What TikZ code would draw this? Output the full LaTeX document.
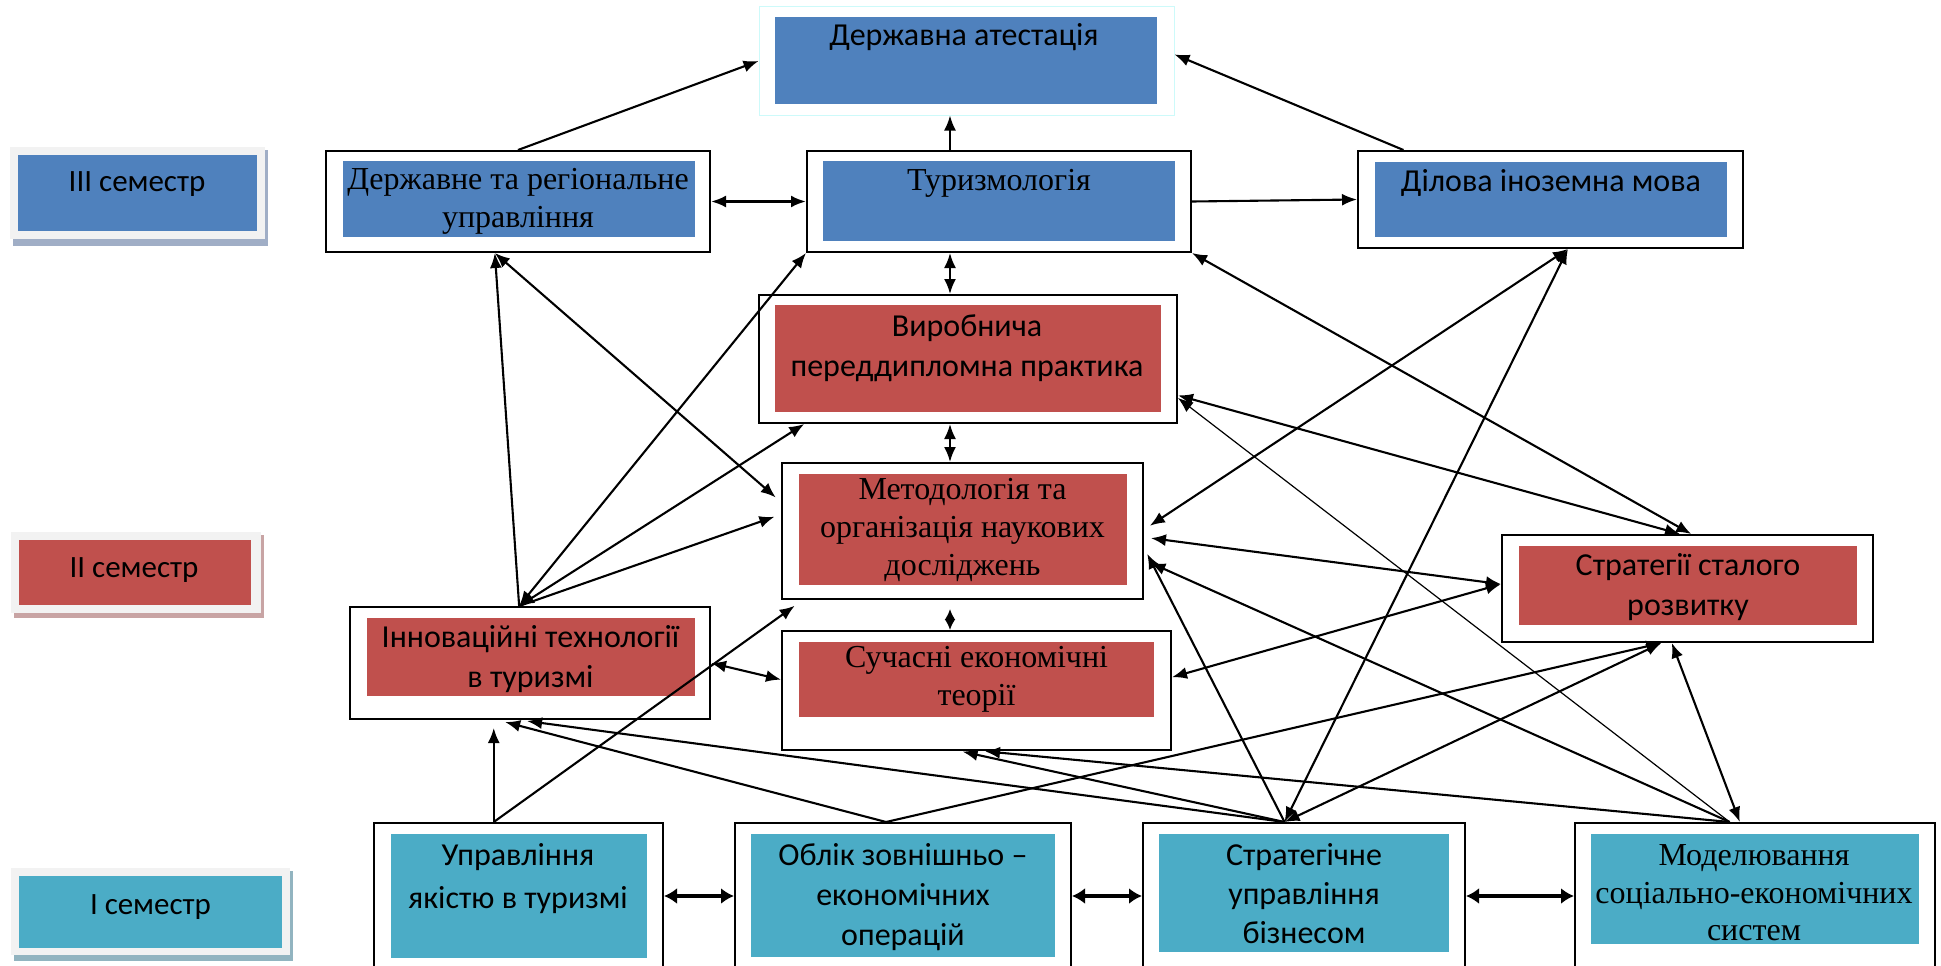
\documentclass[tikz,border=0pt]{standalone}
\usepackage{fontspec}
\setmainfont{Liberation Serif}
\setsansfont{Carlito}
\usetikzlibrary{arrows.meta,calc}

\definecolor{plan3}{RGB}{79,129,189}
\definecolor{plan2}{RGB}{192,80,77}
\definecolor{plan1}{RGB}{75,172,198}
\definecolor{pale}{RGB}{242,242,242}
\definecolor{shade3}{RGB}{160,174,198}
\definecolor{shade2}{RGB}{200,164,164}
\definecolor{shade1}{RGB}{146,180,192}
\definecolor{icy}{RGB}{205,250,250}

\tikzset{
  boxframe/.style={draw, fill=white, line width=2pt, inner sep=0pt},
  sertext/.style={font=\fontsize{32}{38}\selectfont, align=center, inner sep=0pt},
  santext/.style={font=\sffamily\fontsize{32}{40}\selectfont, align=center, inner sep=0pt},
  semtext/.style={font=\sffamily\fontsize{31}{36}\selectfont, inner sep=0pt},
  link/.style={line width=2.1pt, -{Latex[length=15pt,width=12pt]}},
  thinlink/.style={line width=1.2pt, -{Latex[length=15pt,width=12pt]}},
  twoway/.style={line width=2.1pt, {Latex[length=15pt,width=12pt]}-{Latex[length=15pt,width=12pt]}},
  shortway/.style={line width=2pt, {Latex[length=11pt,width=11pt]}-{Latex[length=11pt,width=11pt]}},
  rowlink/.style={line width=3.2pt, {Latex[length=13pt,width=16pt]}-{Latex[length=13pt,width=16pt]}},
}

\begin{document}
\begin{tikzpicture}[x=1pt,y=1pt,yscale=-1]
\useasboundingbox (0,0) rectangle (1941,966);
\clip (0,0) rectangle (1941,966);

% Semester labels
\fill[shade3] (13,150) rectangle (268,246);
\fill[pale] (10,147) rectangle (265,239);
\fill[plan3] (18,155) rectangle (257,231);
\node[semtext] (sem3) at (137,184) {III семестр};
\fill[shade2] (14,535) rectangle (264,618);
\fill[pale] (11,532) rectangle (261,613);
\fill[plan2] (19,540) rectangle (251,605);
\node[semtext] (sem2) at (134,570) {II семестр};
\fill[shade1] (14,871) rectangle (293,961);
\fill[pale] (11,868) rectangle (290,955);
\fill[plan1] (19,876) rectangle (282,948);
\node[semtext] (sem1) at (150.5,907) {I семестр};

% III semester
\node[boxframe, draw=icy, line width=1pt, minimum width=415, minimum height=108] (attest) at (966.5,61) {};
\fill[plan3] (775,17) rectangle (1157,104);
\node[santext] (attest-t) at (964,37) {Державна атестація};
\node[boxframe, minimum width=384, minimum height=101] (derzh) at (518,201.5) {};
\fill[plan3] (343,161) rectangle (695,237);
\node[sertext] (derzh-t) at (518,201) {Державне та регіональне\\управління};
\node[boxframe, minimum width=384, minimum height=101] (turyzm) at (999,201.5) {};
\fill[plan3] (823,161) rectangle (1175,241);
\node[sertext] (turyzm-t) at (999,183) {Туризмологія};
\node[boxframe, minimum width=385, minimum height=97] (dilova) at (1550.5,199.5) {};
\fill[plan3] (1375,162) rectangle (1727,237);
\node[santext] (dilova-t) at (1551,183) {Ділова іноземна мова};

% II semester
\node[boxframe, minimum width=418, minimum height=128] (vyrob) at (968,359) {};
\fill[plan2] (775,305) rectangle (1161,412);
\node[santext] (vyrob-t) at (967,348) {Виробнича\\переддипломна практика};
\node[boxframe, minimum width=361, minimum height=136] (metod) at (962.5,531) {};
\fill[plan2] (799,474) rectangle (1127,585);
\node[sertext] (metod-t) at (962.5,530) {Методологія та\\організація наукових\\досліджень};
\node[boxframe, minimum width=389, minimum height=119] (suchasni) at (976.5,690.5) {};
\fill[plan2] (799,642) rectangle (1154,717);
\node[sertext] (suchasni-t) at (976.5,679) {Сучасні економічні\\теорії};
\node[boxframe, minimum width=360, minimum height=112] (innov) at (530,663) {};
\fill[plan2] (367,618) rectangle (695,696);
\node[santext] (innov-t) at (530.5,659) {Інноваційні технології\\в туризмі};
\node[boxframe, minimum width=371, minimum height=107] (strateg) at (1687.5,588.5) {};
\fill[plan2] (1519,546) rectangle (1857,625);
\node[santext] (strateg-t) at (1688,587.5) {Стратегії сталого\\розвитку};

% I semester
\node[boxframe, minimum width=289, minimum height=167] (upravl) at (518.5,906.5) {};
\fill[plan1] (391,834) rectangle (647,958);
\node[santext, font=\sffamily\fontsize{32}{43}\selectfont] (upravl-t) at (518,878.5) {Управління\\якістю в туризмі};
\node[boxframe, minimum width=336, minimum height=167] (oblik) at (903,906.5) {};
\fill[plan1] (751,834) rectangle (1055,957);
\node[santext] (oblik-t) at (903,897) {Облік зовнішньо –\\економічних\\операцій};
\node[boxframe, minimum width=322, minimum height=167] (stratup) at (1304,906.5) {};
\fill[plan1] (1159,834) rectangle (1449,952);
\node[santext, font=\sffamily\fontsize{32}{39}\selectfont] (stratup-t) at (1304,894) {Стратегічне\\управління\\бізнесом};
\node[boxframe, minimum width=360, minimum height=167] (model) at (1755,906.5) {};
\fill[plan1] (1591,834) rectangle (1919,944);
\node[sertext, font=\fontsize{32}{37.5}\selectfont] (model-t) at (1754,893) {Моделювання\\соціально-економічних\\систем};

% ports on the frames
\coordinate (axis) at (950,0);
\coordinate (row) at (0,896);
\coordinate (derzh-b) at ($(derzh.south west)!.44!(derzh.south east)$);
\coordinate (innov-n) at ($(innov.north west)!.47!(innov.north east)$);
\coordinate (upravl-n) at ($(upravl.north west)!.415!(upravl.north east)$);
\coordinate (oblik-n) at ($(oblik.north west)!.45!(oblik.north east)$);
\coordinate (stratup-n) at ($(stratup.north west)!.44!(stratup.north east)$);
\coordinate (model-n) at ($(model.north west)!.43!(model.north east)$);
\coordinate (dilova-b) at ($(dilova.south west)!.545!(dilova.south east)$);
\coordinate (strateg-b) at ($(strateg.south west)!.43!(strateg.south east)$);
\coordinate (strateg-l) at ($(strateg.north west)!.46!(strateg.south west)$);

% upper links
\draw[link] (derzh.north) -- (attest.west);
\draw[link] (turyzm.north -| axis) -- (attest.south -| axis);
\draw[link] ($(dilova.north west)!.12!(dilova.north east)$) -- ($(attest.north east)!.44!(attest.south east)$);
\draw[twoway, line width=2.6pt] (derzh.east) -- (turyzm.west);
\draw[link] (turyzm.east) -- (dilova.west);
\draw[twoway] (turyzm.south -| axis) -- (vyrob.north -| axis);
\draw[twoway] (vyrob.south -| axis) -- (metod.north -| axis);
\draw[shortway, shorten <=9pt] (metod.south -| axis) -- (suchasni.north -| axis);

% left side
\draw[link] (innov-n) -- (derzh-b);
\draw[twoway, shorten >=7pt] (derzh-b) -- ($(metod.north west)!.29!(metod.south west)$);
\draw[twoway] (turyzm.south west) -- (innov-n);
\draw[twoway] ($(vyrob.south west)!.11!(vyrob.south east)$) -- (innov-n);
\draw[link, shorten >=7pt] (innov-n) -- ($(metod.north west)!.38!(metod.south west)$);
\draw[twoway] (innov.east) -- ($(suchasni.north west)!.41!(suchasni.south west)$);

% from the I semester
\draw[link, shorten >=8pt] (upravl-n) -- (upravl-n |- innov.south);
\draw[link, shorten >=10pt] (upravl-n) -- ($(metod.south west)!.06!(metod.south east)$);
\draw[link, shorten >=8pt] (oblik-n) -- ($(innov.south west)!.41!(innov.south east)$);
\draw[link] (oblik-n) -- (strateg-b);
\draw[link, shorten >=8pt] (stratup-n) -- ($(innov.south west)!.47!(innov.south east)$);
\draw[link, shorten >=3pt] (stratup-n) -- ($(suchasni.south west)!.457!(suchasni.south east)$);
\draw[link, shorten >=7pt] (stratup-n) -- ($(metod.north east)!.62!(metod.south east)$);
\draw[twoway] (stratup-n) -- (dilova-b);
\draw[twoway] (stratup-n) -- (strateg-b);
\draw[link, shorten >=3pt] (model-n) -- ($(suchasni.south west)!.514!(suchasni.south east)$);
\draw[link, shorten >=7pt] (model-n) -- ($(metod.north east)!.71!(metod.south east)$);
\draw[thinlink] (model-n) -- ($(vyrob.north east)!.8!(vyrob.south east)$);
\draw[twoway] ($(model.north west)!.458!(model.north east)$) -- ($(strateg.south west)!.458!(strateg.south east)$);

% right side
\draw[twoway, shorten <=7pt] ($(metod.north east)!.49!(metod.south east)$) -- (dilova-b);
\draw[twoway, shorten <=7pt] ($(metod.north east)!.545!(metod.south east)$) -- (strateg-l);
\draw[twoway] ($(suchasni.north east)!.39!(suchasni.south east)$) -- (strateg-l);
\draw[twoway] ($(vyrob.north east)!.78!(vyrob.south east)$) -- ($(strateg.north west)!.48!(strateg.north east)$);
\draw[twoway] (turyzm.south east) -- ($(strateg.north west)!.51!(strateg.north east)$);

% bottom row
\draw[rowlink] (upravl.east |- row) -- (oblik.west |- row);
\draw[rowlink] (oblik.east |- row) -- (stratup.west |- row);
\draw[rowlink] (stratup.east |- row) -- (model.west |- row);

\end{tikzpicture}
\end{document}
